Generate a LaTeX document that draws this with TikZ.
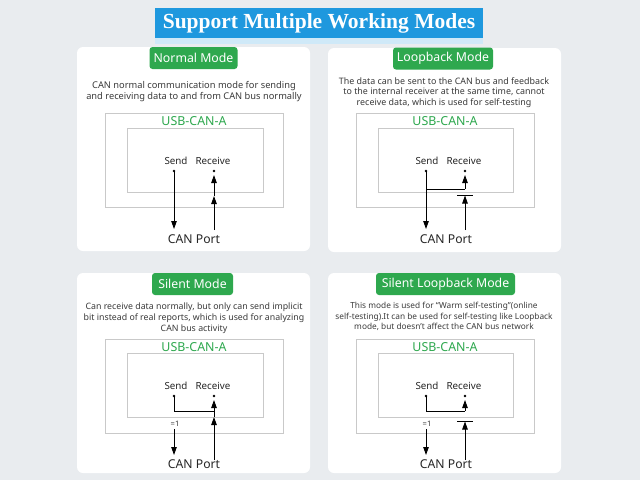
\documentclass[tikz,border=0pt]{standalone}
\usepackage{fontspec}
\setmainfont{Noto Sans}
\newfontfamily\titlefont{Liberation Serif}
\usetikzlibrary{arrows.meta}
\definecolor{bgc}{HTML}{E9ECEF}
\definecolor{bluec}{HTML}{1E98DE}
\definecolor{lightblue}{HTML}{CFE9F8}
\definecolor{greenc}{HTML}{2EA84E}
\definecolor{boxc}{HTML}{C9C9C9}
\definecolor{txtc}{HTML}{3A3A3A}
\tikzset{
  panel/.style={fill=white, draw=none, rounded corners=6pt},
  tag/.style={fill=greenc, text=white, rounded corners=3pt, minimum height=22pt, inner sep=0pt, font=\fontsize{12.3}{14}\selectfont},
  desc/.style={text=txtc, align=center, inner sep=0pt},
  boxline/.style={draw=boxc, line width=0.8pt},
  usb/.style={text=greenc, font=\fontsize{12.4}{14}\selectfont, inner sep=0pt},
  lbl/.style={text=black!85, font=\fontsize{9.8}{11}\selectfont, inner sep=0pt},
  port/.style={text=black!85, font=\fontsize{12.2}{14}\selectfont, inner sep=0pt},
  eqone/.style={text=black!80, font=\fontsize{7.5}{8}\selectfont, inner sep=0pt},
  sig/.style={draw=black, line width=0.9pt},
  arr/.style={sig, -{Triangle[length=8pt,width=5.5pt]}},
  dotc/.style={circle, fill=black, inner sep=0pt, minimum size=2.6pt},
  barl/.style={draw=black, line width=0.9pt},
}
\begin{document}
\begin{tikzpicture}[x=1pt,y=-1pt]
\useasboundingbox (0,0) rectangle (640,480);
\fill[bgc] (0,0) rectangle (640,480);
% title
\fill[lightblue] (155,38) rectangle (483,44);
\node[fill=bluec, text=white, minimum width=328pt, minimum height=30pt, inner sep=0pt, font=\titlefont\bfseries\fontsize{21.5}{24}\selectfont] (title) at (319,23) {Support Multiple Working Modes};
% panels
\fill[panel] (77,47) rectangle (310,251);
\fill[panel] (328,48) rectangle (561,252);
\fill[panel] (77,273) rectangle (310,473);
\fill[panel] (328,273) rectangle (561,473);

%% ---------- Panel 1: Normal ----------
\node[tag, minimum width=88pt] (t1) at (193.5,58) {Normal Mode};
\node[desc, font=\fontsize{9.3}{11}\selectfont] (d1) at (194,91.5) {CAN normal communication mode for sending\\and receiving data to and from CAN bus normally};
\draw[boxline] (105,113) rectangle (283,207);
\draw[boxline] (127,128) rectangle (263,192);
\node[usb] (u1) at (194,121) {USB-CAN-A};
\node[lbl] (sl1) at (176,161) {Send};
\node[lbl] (rl1) at (213,161) {Receive};
\node[dotc] (s1) at (174,171) {};
\node[dotc] (r1) at (214,171) {};
\coordinate (s1e) at (174,229);
\coordinate (r1b) at (214,230);
\coordinate (r1m) at (214,196);
\coordinate (r1t) at (214,175);
\draw[arr] (s1.center) -- (s1e);
\draw[arr] (r1b) -- (r1m);
\draw[arr] (r1m) -- (r1t);
\node[port] (p1) at (194,239) {CAN Port};

%% ---------- Panel 2: Loopback ----------
\node[tag, minimum width=100pt] (t2) at (443,58.5) {Loopback Mode};
\node[desc, font=\fontsize{8.9}{10.5}\selectfont] (d2) at (444,92.5) {The data can be sent to the CAN bus and feedback\\to the internal receiver at the same time, cannot\\receive data, which is used for self-testing};
\draw[boxline] (356,113) rectangle (534,207);
\draw[boxline] (378,128) rectangle (513,192);
\node[usb] (u2) at (445,121) {USB-CAN-A};
\node[lbl] (sl2) at (427,161) {Send};
\node[lbl] (rl2) at (464,161) {Receive};
\node[dotc] (s2) at (426,171) {};
\node[dotc] (r2) at (465,171) {};
\coordinate (s2e) at (426,229);
\coordinate (j2) at (426,189);
\coordinate (c2) at (465,189);
\coordinate (r2t) at (465,175);
\coordinate (r2b) at (465,230);
\coordinate (b2l) at (457,195);
\coordinate (b2r) at (473,195);
\coordinate (b2m) at (465,195.5);
\draw[arr] (s2.center) -- (s2e);
\draw[sig] (j2) -- (c2);
\draw[arr] (c2) -- (r2t);
\draw[barl] (b2l) -- (b2r);
\draw[arr] (r2b) -- (b2m);
\node[port] (p2) at (446,239) {CAN Port};

%% ---------- Panel 3: Silent ----------
\node[tag, minimum width=81pt] (t3) at (192.5,284) {Silent Mode};
\node[desc, font=\fontsize{8.8}{10.8}\selectfont] (d3) at (194,318) {Can receive data normally, but only can send implicit\\bit instead of real reports, which is used for analyzing\\CAN bus activity};
\draw[boxline] (105,339) rectangle (283,433);
\draw[boxline] (127,353) rectangle (263,417);
\node[usb] (u3) at (194,347) {USB-CAN-A};
\node[lbl] (sl3) at (176,386) {Send};
\node[lbl] (rl3) at (213,386) {Receive};
\node[dotc] (s3) at (174,396) {};
\node[dotc] (r3) at (214,396) {};
\coordinate (c3) at (174,411);
\coordinate (j3) at (214,411);
\coordinate (r3b) at (214,460);
\coordinate (r3m) at (214,417);
\coordinate (r3t) at (214,400);
\draw[sig] (s3.center) -- (c3) -- (j3);
\draw[arr] (r3b) -- (r3m);
\draw[arr] (r3m) -- (r3t);
\node[eqone] (e3) at (175,424) {=1};
\coordinate (a3s) at (174,429);
\coordinate (a3e) at (174,455);
\draw[arr] (a3s) -- (a3e);
\node[port] (p3) at (194,464) {CAN Port};

%% ---------- Panel 4: Silent Loopback ----------
\node[tag, minimum width=139pt] (t4) at (445.5,284) {Silent Loopback Mode};
\node[desc, font=\fontsize{8.3}{10.5}\selectfont] (d4) at (444,316.5) {This mode is used for “Warm self-testing”(online\\self-testing).It can be used for self-testing like Loopback\\mode, but doesn’t affect the CAN bus network};
\draw[boxline] (356,339) rectangle (534,433);
\draw[boxline] (378,353) rectangle (513,417);
\node[usb] (u4) at (445,347) {USB-CAN-A};
\node[lbl] (sl4) at (427,386) {Send};
\node[lbl] (rl4) at (464,386) {Receive};
\node[dotc] (s4) at (426,396) {};
\node[dotc] (r4) at (465,396) {};
\coordinate (c4) at (426,411);
\coordinate (j4) at (465,411);
\coordinate (r4t) at (465,400);
\draw[sig] (s4.center) -- (c4) -- (j4);
\draw[arr] (j4) -- (r4t);
\node[eqone] (e4) at (427,424) {=1};
\coordinate (a4s) at (426,429);
\coordinate (a4e) at (426,455);
\draw[arr] (a4s) -- (a4e);
\coordinate (b4l) at (457,421);
\coordinate (b4r) at (473,421);
\coordinate (b4m) at (465,421.5);
\coordinate (r4b) at (465,460);
\draw[barl] (b4l) -- (b4r);
\draw[arr] (r4b) -- (b4m);
\node[port] (p4) at (446,464) {CAN Port};
\end{tikzpicture}
\end{document}
